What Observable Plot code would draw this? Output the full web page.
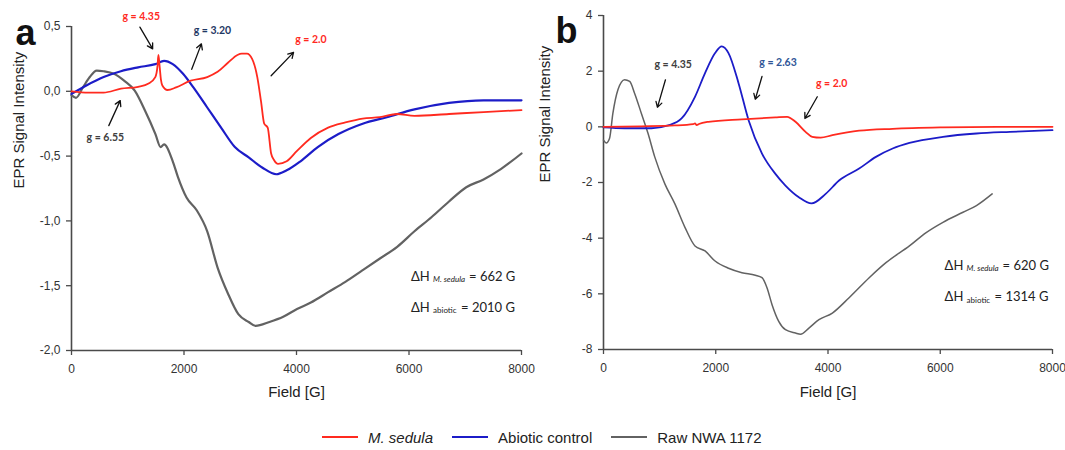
<!DOCTYPE html>
<html>
<head>
<meta charset="utf-8">
<script src="https://cdn.jsdelivr.net/npm/d3@7"></script>
<script src="https://cdn.jsdelivr.net/npm/@observablehq/plot@0.6"></script>
<style>
  body { margin: 0; background: #fff; font-family: "Liberation Sans", Arial, sans-serif; }
  #wrap { position: relative; width: 1065px; height: 450px; overflow: hidden; }
  #panelA { position: absolute; left: 0; top: 0; }
  #panelB { position: absolute; left: 530px; top: 0; }
  svg { overflow: visible; }
  #legend { position: absolute; left: 322px; top: 427px; height: 20px; display: flex; align-items: center;
            font: 15px "Liberation Sans", Arial, sans-serif; color: #222; }
  #legend .sw { width: 36px; height: 2px; margin-right: 10px; }
  #legend .it { display: flex; align-items: center; margin-right: 19px; }
</style>
</head>
<body>
<div id="wrap">
  <div id="panelA"></div>
  <div id="panelB"></div>
  <div id="legend"></div>
</div>
<script>
// ---------- data: panel a ----------
const aSedula = [[0,0],[300,-0.01],[570,-0.01],[880,0.02],[1185,0.035],[1370,0.06],[1490,0.11],[1530,0.2],[1545,0.28],[1565,0.2],[1590,0.09],[1615,0.045],[1707,0.01],[1860,0.03],[2105,0.08],[2413,0.11],[2597,0.15],[2781,0.22],[2950,0.28],[3027,0.29],[3119,0.29],[3211,0.25],[3303,0.11],[3370,-0.08],[3426,-0.25],[3488,-0.28],[3549,-0.48],[3600,-0.53],[3672,-0.56],[3825,-0.54],[4009,-0.46],[4255,-0.36],[4562,-0.28],[4869,-0.24],[5176,-0.21],[5483,-0.2],[5790,-0.175],[6097,-0.19],[6711,-0.175],[7325,-0.16],[8000,-0.145]];
const aAbiotic = [[0,-0.02],[264,0.045],[571,0.11],[878,0.155],[1185,0.185],[1492,0.21],[1646,0.235],[1800,0.21],[1983,0.135],[2167,0.03],[2413,-0.125],[2659,-0.28],[2904,-0.43],[3150,-0.51],[3396,-0.59],[3641,-0.64],[3825,-0.61],[4071,-0.54],[4378,-0.43],[4746,-0.33],[5176,-0.25],[5606,-0.2],[6097,-0.14],[6711,-0.09],[7325,-0.07],[8000,-0.07]];
const aRaw = [[0,-0.03],[80,-0.05],[203,0.03],[325,0.11],[448,0.16],[571,0.155],[755,0.135],[940,0.08],[1124,0.005],[1308,-0.15],[1492,-0.33],[1584,-0.43],[1645,-0.41],[1800,-0.54],[1891,-0.66],[2045,-0.82],[2229,-0.92],[2413,-1.08],[2597,-1.36],[2781,-1.56],[2966,-1.72],[3150,-1.78],[3273,-1.81],[3519,-1.78],[3764,-1.74],[4009,-1.68],[4255,-1.63],[4562,-1.55],[4869,-1.47],[5176,-1.38],[5483,-1.29],[5790,-1.2],[6097,-1.08],[6404,-0.97],[6711,-0.85],[7018,-0.74],[7325,-0.68],[7632,-0.6],[8000,-0.48]];
const aXTicks = [0, 2000, 4000, 6000, 8000];
const aYTicks = [0.5, 0, -0.5, -1, -1.5, -2];
const aGLabels = [
  {text: "g = 4.35", x: 1240, y: 0.58, color: "#ff2a1f"},
  {text: "g = 3.20", x: 2505, y: 0.47, color: "#1f3864"},
  {text: "g = 2.0",  x: 4255, y: 0.40, color: "#ff2a1f"},
  {text: "g = 6.55", x: 602,  y: -0.36, color: "#404040"}
];
const aArrows = [
  {x1: 1216, y1: 0.495, x2: 1443, y2: 0.327},
  {x1: 2137, y1: 0.17,  x2: 2309, y2: 0.366},
  {x1: 3549, y1: 0.12,  x2: 3948, y2: 0.30},
  {x1: 663,  y1: -0.265, x2: 866, y2: -0.072}
];
const aWidths = [{x: 6036, y: -1.43, sub: "M. sedula", val: "= 662 G"}, {x: 6036, y: -1.67, sub: "abiotic", val: "= 2010 G"}];

// ---------- data: panel b ----------
const bSedula = [[0,0],[675,0.02],[1272,0.05],[1600,0.1],[1630,0.12],[1660,0.06],[1700,0.1],[1869,0.18],[2466,0.27],[3063,0.34],[3272,0.36],[3421,0.18],[3600,-0.18],[3719,-0.36],[3869,-0.39],[4078,-0.3],[4555,-0.14],[5152,-0.07],[6048,-0.02],[7000,0],[8000,0]];
const bAbiotic = [[0,-0.02],[376,-0.05],[854,-0.05],[1152,0.05],[1391,0.3],[1630,1.08],[1809,1.93],[1988,2.65],[2107,2.89],[2227,2.65],[2406,1.57],[2585,0.24],[2824,-0.96],[3063,-1.69],[3242,-2.11],[3481,-2.53],[3707,-2.75],[3958,-2.41],[4197,-1.93],[4555,-1.5],[4854,-1.08],[5152,-0.78],[5451,-0.58],[6048,-0.36],[6645,-0.24],[7242,-0.18],[8000,-0.12]];
const bRaw = [[0,-0.48],[48,-0.58],[107,-0.42],[167,0.48],[257,1.33],[376,1.69],[466,1.63],[555,1.2],[675,0.48],[794,-0.24],[913,-1.08],[1093,-2.05],[1272,-2.77],[1451,-3.61],[1630,-4.28],[1809,-4.46],[1988,-4.82],[2227,-5.08],[2466,-5.24],[2705,-5.33],[2824,-5.42],[2913,-5.78],[3003,-6.39],[3122,-6.99],[3242,-7.29],[3421,-7.41],[3510,-7.45],[3660,-7.23],[3839,-6.93],[4078,-6.69],[4376,-6.14],[4734,-5.42],[5033,-4.88],[5451,-4.28],[5749,-3.8],[6048,-3.43],[6406,-3.07],[6645,-2.83],[6925,-2.41]];
const bXTicks = [0, 2000, 4000, 6000, 8000];
const bYTicks = [4, 2, 0, -2, -4, -6, -8];
const bGLabels = [
  {text: "g = 4.35", x: 1242, y: 2.25, color: "#404040"},
  {text: "g = 2.63", x: 3110, y: 2.29, color: "#2f5597"},
  {text: "g = 2.0",  x: 4066, y: 1.54, color: "#ff2a1f"}
];
const bArrows = [
  {x1: 1104, y1: 1.69, x2: 961,  y2: 0.70},
  {x1: 2824, y1: 1.81, x2: 2704, y2: 0.99},
  {x1: 3809, y1: 1.08, x2: 3588, y2: 0.30}
];
const bWidths = [{x: 6077, y: -4.98, sub: "M. sedula", val: "= 620 G"}, {x: 6077, y: -6.12, sub: "abiotic", val: "= 1314 G"}];

const seriesNames = ["M. sedula", "Abiotic control", "Raw NWA 1172"];
const seriesColors = ["#ff2a1f", "#1c1cc8", "#626262"];

// ---------- drawing ----------
const AX = "#4a4a4a";
const annoFont = "Lato, 'Open Sans', sans-serif";

function panel(cfg) {
  const {xDomain, yDomain, xTicks, yTicks, yFmt, red, blue, gray, gl, arrows, widths,
         width, mL, mR, mT, mB, letter, letterDx, letterDy, yLabDx, xLabDy, lw, subDx, valDx} = cfg;
  return Plot.plot({
    width, height: 410,
    marginLeft: mL, marginRight: mR, marginTop: mT, marginBottom: mB,
    style: {fontFamily: "'Liberation Sans', Arial, sans-serif", fontSize: "12px", color: "#333", background: "transparent"},
    x: {domain: xDomain},
    y: {domain: yDomain},
    marks: [
      Plot.axisX({ticks: xTicks, tickSize: 5, tickPadding: 9, stroke: AX, strokeWidth: 1.3, label: null, tickFormat: d => String(d)}),
      Plot.axisY({ticks: yTicks, tickSize: 5, tickPadding: 6, stroke: AX, strokeWidth: 1.3, label: null, tickFormat: yFmt}),
      Plot.ruleX([xDomain[0]], {y1: yDomain[0], y2: yDomain[1], stroke: AX, strokeWidth: 1.6}),
      Plot.ruleY([yDomain[0]], {x1: xDomain[0], x2: xDomain[1], stroke: AX, strokeWidth: 1.6}),
      Plot.line(gray, {x: d => d[0], y: d => d[1], stroke: seriesColors[2], strokeWidth: lw[2], curve: "monotone-x"}),
      Plot.line(blue, {x: d => d[0], y: d => d[1], stroke: seriesColors[1], strokeWidth: lw[1], curve: "monotone-x"}),
      Plot.line(red,  {x: d => d[0], y: d => d[1], stroke: seriesColors[0], strokeWidth: lw[0], curve: "monotone-x"}),
      Plot.arrow(arrows, {x1: "x1", y1: "y1", x2: "x2", y2: "y2", stroke: "#111", strokeWidth: 1.3, headLength: 7}),
      Plot.text(gl, {x: "x", y: "y", text: "text", fill: "color", fontWeight: "bold", fontSize: 10.5, fontFamily: annoFont}),
      Plot.text(widths, {x: "x", y: "y", text: () => "ΔH", textAnchor: "start", fontSize: 13, fontFamily: annoFont, fill: "#222"}),
      ...widths.map((w, i) => Plot.text([w], {x: "x", y: "y", text: "sub", textAnchor: "start", dx: subDx, dy: 3, fontSize: 8, fontStyle: i === 0 ? "italic" : "normal", fontFamily: annoFont, fill: "#222"})),
      ...widths.map((w, i) => Plot.text([w], {x: "x", y: "y", text: "val", textAnchor: "start", dx: valDx[i], fontSize: 13, fontFamily: annoFont, fill: "#222"})),
      Plot.text([letter], {frameAnchor: "top-left", dx: letterDx, dy: letterDy, lineAnchor: "bottom", textAnchor: "start", fontSize: 36, fontWeight: "bold", fill: "#111"}),
      Plot.text(["EPR Signal Intensity"], {frameAnchor: "left", dx: yLabDx, rotate: -90, fontSize: 15, fill: "#222"}),
      Plot.text(["Field [G]"], {frameAnchor: "bottom", dy: xLabDy, fontSize: 15, fill: "#222"})
    ]
  });
}

const fmtComma = d => d.toFixed(1).replace(".", ",");

document.getElementById("panelA").append(panel({
  xDomain: [0, 8000], yDomain: [-2, 0.5], xTicks: aXTicks, yTicks: aYTicks, yFmt: fmtComma,
  red: aSedula, blue: aAbiotic, gray: aRaw, gl: aGLabels, arrows: aArrows, widths: aWidths,
  width: 530, mL: 71, mR: 9, mT: 26, mB: 60, letter: "a", letterDx: -56, letterDy: 18,
  yLabDx: -52, xLabDy: 46, lw: [1.8, 2.2, 2.2], subDx: 22, valDx: [58, 50]
}));
document.getElementById("panelB").append(panel({
  xDomain: [0, 8000], yDomain: [-8, 4], xTicks: bXTicks, yTicks: bYTicks, yFmt: d => String(d),
  red: bSedula, blue: bAbiotic, gray: bRaw, gl: bGLabels, arrows: bArrows, widths: bWidths,
  width: 535, mL: 73, mR: 13, mT: 15, mB: 61, letter: "b", letterDx: -48, letterDy: 27.5,
  yLabDx: -58, xLabDy: 47, lw: [1.8, 1.8, 1.5], subDx: 22, valDx: [58, 50]
}));

// legend
const leg = document.getElementById("legend");
seriesNames.forEach((name, i) => {
  const it = document.createElement("div");
  it.className = "it";
  const sw = document.createElement("div");
  sw.className = "sw";
  sw.style.background = seriesColors[i];
  const tx = document.createElement("span");
  tx.textContent = name;
  if (i === 0) tx.style.fontStyle = "italic";
  it.append(sw, tx);
  leg.append(it);
});
</script>
</body>
</html>
